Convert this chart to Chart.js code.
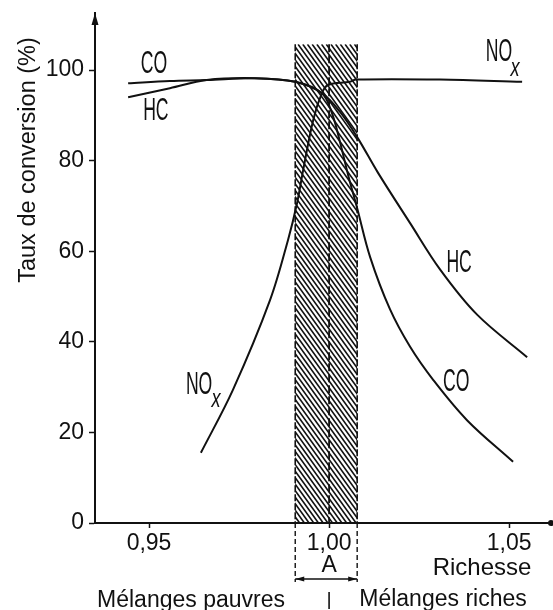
<!DOCTYPE html>
<html>
<head>
<meta charset="utf-8">
<script src="https://cdn.jsdelivr.net/npm/chart.js@4.4.0/dist/chart.umd.min.js"></script>
<style>
    html, body { margin: 0; padding: 0; background: #fff; }
    canvas { display: block; }
</style>
</head>
<body>
<canvas id="chartConversion" width="553" height="610"></canvas>
<script>
// valeurs : richesse (x) et taux de conversion en % (y)
const richesseCO = [0.9442, 0.9558, 0.966, 0.9794, 0.9906, 0.998, 1.0008, 1.0031, 1.0053, 1.0078, 1.0114, 1.0169, 1.0225, 1.0289, 1.0383, 1.0511]
const tauxCO = [97.1, 97.6, 97.8, 98.2, 97.4, 94.9, 90.5, 83.9, 76.8, 69.5, 58.7, 47.2, 38.9, 31.6, 22.7, 13.5]

const richesseHC = [0.9442, 0.9558, 0.966, 0.9794, 0.9906, 0.998, 1.0031, 1.0078, 1.0136, 1.0225, 1.0308, 1.0411, 1.055]
const tauxHC = [94.0, 96.0, 97.8, 98.2, 97.4, 94.9, 90.7, 85.2, 77.3, 66.2, 56.0, 46.0, 36.6]

const richesseNOx = [0.9644, 0.9733, 0.9836, 0.9886, 0.9911, 0.9928, 0.9956, 0.998, 0.9997, 1.0058, 1.0075, 1.0308, 1.0536]
const tauxNOx = [15.5, 29.4, 49.2, 62.5, 70.6, 77.9, 89.0, 94.9, 96.7, 97.4, 97.9, 97.9, 97.4]

const ticksY = [0, 20, 40, 60, 80, 100]
const ticksX = [0.95, 1.00, 1.05]
const labelsX = ['0,95', '1,00', '1,05']

// zone A hachuree (fenetre de richesse)
const zoneA = [0.9906, 1.0078]
const hautZoneA = 105.7

const police = "'Liberation Sans', Arial, Helvetica, sans-serif"
const noir = '#111'

function points(xs, ys) {
    return xs.map((v, i) => ({x: v, y: ys[i]}))
}

// texte etroit pour les noms des courbes
function etroit(ctx, txt, cx, cy, taille, italique) {
    ctx.save()
    ctx.translate(cx, cy)
    ctx.scale(italique ? 0.7 : 0.55, 1)
    ctx.font = (italique ? 'italic ' : '') + taille + 'px ' + police
    ctx.textAlign = 'center'
    ctx.textBaseline = 'middle'
    ctx.fillText(txt, 0, 0)
    ctx.restore()
}

function fleche(ctx, xa, ya, dx, dy, long, larg) {
    // pointe en (xa, ya), direction (dx, dy)
    ctx.beginPath()
    ctx.moveTo(xa, ya)
    ctx.lineTo(xa - dx * long - dy * larg, ya - dy * long + dx * larg)
    ctx.lineTo(xa - dx * long + dy * larg, ya - dy * long - dx * larg)
    ctx.closePath()
    ctx.fill()
}

const decor = {
    id: 'decor',
    beforeDatasetsDraw(chart) {
        const {ctx, scales: {x, y}} = chart
        const x0 = x.getPixelForValue(zoneA[0])
        const x1 = x.getPixelForValue(zoneA[1])
        const xc = x.getPixelForValue(1.00)
        const yt = y.getPixelForValue(hautZoneA)
        const yb = y.getPixelForValue(0)
        const h = yb - yt

        // hachures
        ctx.save()
        ctx.beginPath()
        ctx.rect(x0, yt, x1 - x0, h)
        ctx.clip()
        ctx.strokeStyle = noir
        ctx.lineWidth = 1.6
        for (let k = x0 - h * 0.75; k < x1 + 5; k += 4.7) {
            ctx.beginPath()
            ctx.moveTo(k, yt)
            ctx.lineTo(k + h * 0.72, yb)
            ctx.stroke()
        }
        ctx.restore()

        // bords et axe central en tirets
        ctx.save()
        ctx.strokeStyle = noir
        ctx.lineWidth = 1.6
        ctx.setLineDash([7, 2])
        for (const px of [x0, x1]) {
            ctx.beginPath()
            ctx.moveTo(px, yt)
            ctx.lineTo(px, yb)
            ctx.stroke()
        }
        ctx.lineWidth = 1.8
        ctx.setLineDash([8, 3])
        ctx.beginPath()
        ctx.moveTo(xc, yt)
        ctx.lineTo(xc, yb)
        ctx.stroke()
        ctx.restore()
    },
    afterDraw(chart) {
        const {ctx, scales: {x, y}, chartArea} = chart
        const x0 = x.getPixelForValue(zoneA[0])
        const x1 = x.getPixelForValue(zoneA[1])
        const xc = x.getPixelForValue(1.00)
        const yb = chartArea.bottom

        ctx.save()
        ctx.fillStyle = noir
        ctx.strokeStyle = noir

        // fleche de l'axe vertical et point au bout de l'axe horizontal
        fleche(ctx, chartArea.left, chartArea.top, 0, -1, 12, 3.5)
        ctx.beginPath()
        ctx.arc(chartArea.right - 1, yb, 3, 0, Math.PI * 2)
        ctx.fill()

        // cotes de la zone A sous l'axe
        ctx.lineWidth = 1.4
        ctx.setLineDash([5, 3])
        for (const px of [x0, x1]) {
            ctx.beginPath()
            ctx.moveTo(px, yb)
            ctx.lineTo(px, yb + 59)
            ctx.stroke()
        }
        ctx.setLineDash([])
        ctx.beginPath()
        ctx.moveTo(x0, yb + 56)
        ctx.lineTo(x1, yb + 56)
        ctx.stroke()
        fleche(ctx, x0, yb + 56, -1, 0, 9, 2.5)
        fleche(ctx, x1, yb + 56, 1, 0, 9, 2.5)
        ctx.lineWidth = 1.6
        ctx.beginPath()
        ctx.moveTo(xc, yb + 69)
        ctx.lineTo(xc, yb + 86)
        ctx.stroke()

        // textes
        ctx.textAlign = 'center'
        ctx.textBaseline = 'middle'
        ctx.font = '23px ' + police
        ctx.fillText('A', xc, yb + 43)
        ctx.fillText('Mélanges pauvres', 191, yb + 78)
        ctx.fillText('Mélanges riches', 443, yb + 77)
        ctx.font = '24px ' + police
        ctx.fillText('Richesse', 482, yb + 45)

        ctx.save()
        ctx.font = '23.5px ' + police
        ctx.translate(29, 160)
        ctx.rotate(-Math.PI / 2)
        ctx.fillText('Taux de conversion (%)', 0, 0)
        ctx.restore()

        // noms des courbes
        const nom = (txt, rx, ty) => etroit(ctx, txt, x.getPixelForValue(rx), y.getPixelForValue(ty), 32)
        nom('CO', 0.9514, 101.3)
        nom('HC', 0.9519, 90.9)
        nom('HC', 1.0361, 57.4)
        nom('CO', 1.0353, 31.1)
        nom('NO', 1.0472, 104.0)
        nom('NO', 0.9639, 30.5)
        etroit(ctx, 'x', x.getPixelForValue(1.0472) + 16, y.getPixelForValue(104.0) + 17, 26, true)
        etroit(ctx, 'x', x.getPixelForValue(0.9639) + 17, y.getPixelForValue(30.5) + 15, 26, true)
        ctx.restore()
    }
}

const style = {
    borderColor: noir,
    borderWidth: 2,
    pointRadius: 0,
    fill: false,
    tension: 0.35
}

// setup
const data = {
    datasets: [
        {label: 'CO', data: points(richesseCO, tauxCO), ...style},
        {label: 'HC', data: points(richesseHC, tauxHC), ...style},
        {label: 'NOx', data: points(richesseNOx, tauxNOx), ...style}
    ]
}

// config
const config = {
    type: 'line',
    data,
    options: {
        responsive: false,
        animation: false,
        layout: {
            padding: {top: 13, right: 1, left: 0, bottom: 0}
        },
        scales: {
            x: {
                type: 'linear',
                min: 0.935,
                max: 1.0619,
                afterBuildTicks: s => { s.ticks = ticksX.map(v => ({value: v})) },
                afterFit: s => { s.height = 87; s.paddingLeft = 0; s.paddingRight = 0 },
                ticks: {
                    callback: (v, i) => labelsX[i],
                    font: {size: 23, family: police},
                    color: noir,
                    padding: 2,
                    maxRotation: 0,
                    autoSkip: false
                },
                grid: {drawOnChartArea: false, tickLength: 5, tickWidth: 1.5, color: noir},
                border: {color: noir, width: 2}
            },
            y: {
                min: 0,
                max: 112.6,
                afterBuildTicks: s => { s.ticks = ticksY.map(v => ({value: v})) },
                afterFit: s => { s.width = 95; s.paddingTop = 0; s.paddingBottom = 0 },
                ticks: {
                    callback: v => String(v),
                    font: {size: 23, family: police},
                    color: noir,
                    padding: 5
                },
                grid: {drawOnChartArea: false, tickLength: 6, tickWidth: 1.5, color: noir},
                border: {color: noir, width: 2}
            }
        },
        plugins: {
            legend: {display: false},
            tooltip: {enabled: false}
        }
    },
    plugins: [decor]
}

// render init block
const myChart = new Chart(
    document.getElementById('chartConversion'),
    config
)
</script>
</body>
</html>
